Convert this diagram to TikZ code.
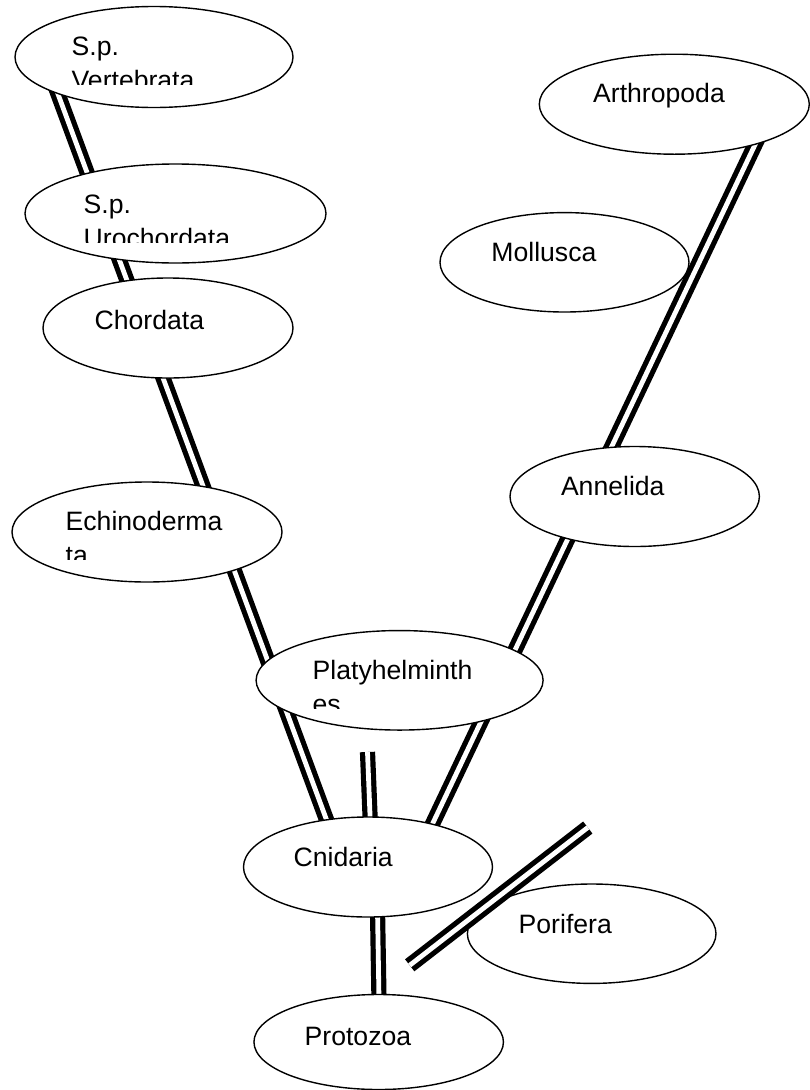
\documentclass[tikz,border=0pt]{standalone}
\usepackage{fontspec}
\setmainfont{Liberation Sans}
\usetikzlibrary{shapes.geometric}
\begin{document}
\begin{tikzpicture}[x=1pt,y=-1pt,
  oval/.style 2 args={ellipse, draw=black, line width=1.4pt, fill=white, inner sep=0pt, minimum width=#1pt, minimum height=#2pt},
  lbl/.style={anchor=base west, inner sep=0pt, font=\fontsize{26.6}{34}\selectfont},
  dbl/.style={draw=black, double=white, double distance=4.8pt, line width=5.2pt, line cap=butt}]
\useasboundingbox (0,0) rectangle (809,1090);
\fill[white] (0,0) rectangle (809,1090);
% node positions
\coordinate (cvert) at (154,57);
\coordinate (curo) at (175.5,213.5);
\coordinate (cchord) at (168,328);
\coordinate (cechi) at (147,532);
\coordinate (cplaty) at (399.6,680.3);
\coordinate (ccnid) at (368,867);
\coordinate (cproto) at (378.7,1042);
\coordinate (cpori) at (591.7,933.7);
\coordinate (carth) at (674.3,104.2);
\coordinate (cmoll) at (564.5,262.3);
\coordinate (canne) at (634.7,496.5);
% connectors (drawn beneath the ovals)
\draw[dbl] ([shift={(-104.9,13)}]cvert) -- ([shift={(-78.3,-13.5)}]curo);
\draw[dbl] ([shift={(-63.5,26.5)}]curo) -- ([shift={(-30.1,-18)}]cchord);
\draw[dbl] ([shift={(-15.3,22)}]cchord) -- ([shift={(64.9,-22)}]cechi);
\draw[dbl] ([shift={(79.7,18)}]cechi) -- ([shift={(-124.8,-0.3)}]cplaty);
\draw[dbl] ([shift={(-117.4,19.7)}]cplaty) -- ([shift={(-30.3,-17)}]ccnid);
\draw[dbl] ([shift={(87.7,25.8)}]carth) -- ([shift={(-34.1,-26.5)}]canne);
\draw[dbl] ([shift={(-57.9,23.5)}]canne) -- ([shift={(108.3,-15.3)}]cplaty);
\draw[dbl] ([shift={(91.7,19.7)}]cplaty) -- ([shift={(52.1,-17)}]ccnid);
\coordinate (stub) at (367.5,752);
\draw[dbl] (stub) -- ([shift={(3,-27)}]ccnid);
\draw[dbl] ([shift={(9,13)}]ccnid) -- ([shift={(0.8,-12)}]cproto);
% ovals
\node[oval={278}{101}] (vert) at (cvert) {};
\node[oval={301}{99}] (uro) at (curo) {};
\node[oval={250}{100}] (chord) at (cchord) {};
\node[oval={270}{100}] (echi) at (cechi) {};
\node[oval={287}{99.5}] (platy) at (cplaty) {};
\node[oval={249}{100}] (cnid) at (ccnid) {};
\node[oval={249.5}{95}] (proto) at (cproto) {};
\node[oval={248.6}{99.4}] (pori) at (cpori) {};
\node[oval={270}{100}] (arth) at (carth) {};
\node[oval={249}{99.4}] (moll) at (cmoll) {};
\node[oval={249.4}{100}] (anne) at (canne) {};
% labels
\node[lbl] (tverta) at (71.5,55) {S.p.};
\begin{scope}
\clip (0,0) rectangle (809,84);
\node[lbl] (tvertb) at (71.5,89.5) {Vertebrata};
\end{scope}
\node[lbl] (turoa) at (83.5,213.3) {S.p.};
\begin{scope}
\clip (0,150) rectangle (809,242.3);
\node[lbl] (turob) at (83.5,247.8) {Urochordata};
\end{scope}
\node[lbl] (tchord) at (94.5,329.4) {Chordata};
\node[lbl] (techia) at (65.5,530) {Echinoderma};
\begin{scope}
\clip (0,480) rectangle (809,559.5);
\node[lbl] (techib) at (65.5,564.5) {ta};
\end{scope}
\node[lbl] (tplatya) at (312.5,679) {Platyhelminth};
\begin{scope}
\clip (0,630) rectangle (809,708.3);
\node[lbl] (tplatyb) at (312.5,713.5) {es};
\end{scope}
\node[lbl] (tcnid) at (293.5,866) {Cnidaria};
\node[lbl] (tproto) at (304.5,1045) {Protozoa};
\node[lbl] (tpori) at (518.5,933) {Porifera};
\node[lbl] (tarth) at (593,102.7) {Arthropoda};
\node[lbl] (tmoll) at (491.2,261) {Mollusca};
\node[lbl] (tanne) at (560.8,495) {Annelida};
% free double line beside Porifera (drawn over it)
\coordinate (porA) at (409.7,965.3);
\coordinate (porB) at (587.8,827.5);
\draw[dbl] (porA) -- (porB);
\end{tikzpicture}
\end{document}
